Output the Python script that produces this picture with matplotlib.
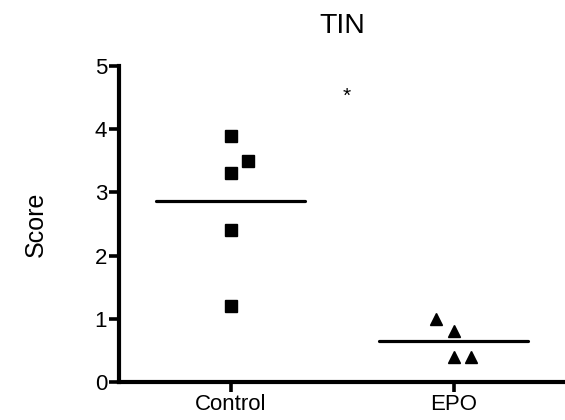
import matplotlib
matplotlib.use("Agg")
import matplotlib.pyplot as plt
import numpy as np

plt.rcParams['font.family'] = ['Liberation Sans', 'DejaVu Sans']

categories = ["Control", "EPO"]
control_x_offsets = [0.0, 0.08, 0.0, 0.0, 0.0]
control_values = [3.9, 3.5, 3.3, 2.4, 1.2]
epo_x_offsets = [-0.08, 0.0, 0.0, 0.08]
epo_values = [1.0, 0.8, 0.4, 0.4]
yticks = [0, 1, 2, 3, 4, 5]
title = "TIN"
ylabel = "Score"
sig_mark = "*"
sig_pos = (0.52, 4.52)

fig = plt.figure(figsize=(5.65, 4.2), dpi=100)
ax = fig.add_axes([119/565, 38/420, 446/565, 316/420])

cx = [0 + o for o in control_x_offsets]
ex = [1 + o for o in epo_x_offsets]
ax.plot(cx, control_values, linestyle='none', marker='s', markersize=8.6,
        color='black', clip_on=False)
ax.plot(ex, epo_values, linestyle='none', marker='^', markersize=8.8,
        color='black', clip_on=False)

half = 0.335
for i, vals in enumerate([control_values, epo_values]):
    m = np.mean(vals)
    ax.plot([i - half, i + half], [m, m], color='black', linewidth=2.3,
            solid_capstyle='round')

ax.text(sig_pos[0], sig_pos[1], sig_mark, ha='center', va='center', fontsize=15)

ax.set_xlim(-0.5, 1.5)
ax.set_ylim(0, 5)
ax.set_xticks([0, 1])
ax.set_xticklabels(categories)
ax.set_yticks(yticks)
ax.set_yticklabels([str(t) for t in yticks])

for s in ['top', 'right']:
    ax.spines[s].set_visible(False)
for s in ['left', 'bottom']:
    ax.spines[s].set_linewidth(3)
ax.tick_params(axis='both', width=2.6, length=7, labelsize=16, pad=1.5)

ax.set_title(title, fontsize=20.5, pad=24)
ax.set_ylabel(ylabel, fontsize=18)
ax.yaxis.set_label_coords(-0.16, 0.5)

fig.savefig("out.png", dpi=100)
